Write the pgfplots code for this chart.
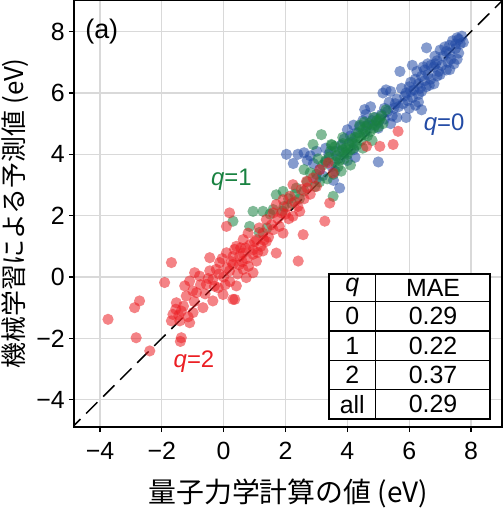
\documentclass[border=0pt]{standalone}
\usepackage{fontspec}
\setmainfont{Liberation Sans}
\newfontfamily\jp{Noto Sans CJK JP}
\usepackage{pgfplots}
\pgfplotsset{compat=1.18}
\usetikzlibrary{calc}
\definecolor{qblue}{RGB}{35,75,165}
\definecolor{qgreen}{RGB}{25,130,65}
\definecolor{qred}{RGB}{235,30,35}

\begin{document}
\begin{tikzpicture}
\begin{axis}[
    width=428bp, height=427bp, scale only axis,
    xmin=-4.84, xmax=9.0, ymin=-4.89, ymax=9.03,
    xtick={-4,-2,0,2,4,6,8}, ytick={-4,-2,0,2,4,6,8},
    xticklabels={−4,−2,0,2,4,6,8}, yticklabels={−4,−2,0,2,4,6,8},
    xtick pos=left, ytick pos=left, tick align=outside,
    major tick length=5bp,
    tick style={black, line width=1.3bp},
    axis line style={line width=1.8bp},
    grid=major,
    major grid style={black!15, line width=1.3bp},
    ticklabel style={font=\fontsize{25}{29}\selectfont, inner sep=0pt},
    xticklabel style={anchor=north, yshift=-10bp},
    yticklabel style={anchor=east, xshift=-4bp},
    xlabel={\jp 量子力学計算の値 (eV)},
    ylabel={\jp 機械学習による予測値 (eV)},
    label style={inner sep=0pt},
    xlabel style={font=\fontsize{28}{32}\selectfont, at={(rel axis cs:0.5,-0.155)}, anchor=center},
    ylabel style={font=\fontsize{26}{30}\selectfont, at={(rel axis cs:-0.137,0.5)}, anchor=center},
    scatter/.style={only marks, mark=*, mark size=5.6bp,
        mark options={fill=#1, draw=#1, draw opacity=0, fill opacity=0.55}},
]
\addplot[black, line width=1.5bp, dash pattern=on 16bp off 8bp] coordinates {(-5,-5) (9.1,9.1)};

% q = 0
\addplot[scatter=qblue] coordinates {
(7.70,7.85) (7.55,7.80) (7.65,7.60) (7.40,7.70) (7.30,7.55) (7.50,7.45) (7.60,7.30) (7.20,7.35) (7.10,7.20) (7.35,7.10)
(7.45,6.95) (7.00,7.40) (6.90,7.05) (7.05,6.90) (6.80,6.85) (6.95,6.70) (7.20,6.75) (7.60,7.75) (7.75,7.65) (7.15,7.50)
(6.56,7.47) (6.83,7.20) (7.31,6.76) (7.25,7.00) (6.60,6.60) (6.50,6.40) (6.40,6.55) (6.70,6.45) (6.30,6.30) (6.55,6.20)
(6.20,6.45) (6.15,6.10) (6.40,6.05) (6.00,6.20) (5.90,6.00) (6.10,5.85) (6.30,5.95) (6.50,6.75) (6.65,6.25) (6.80,6.30)
(6.90,6.55) (6.25,6.70) (5.70,6.70) (6.10,6.90) (5.25,6.10) (5.15,6.00) (5.40,6.05) (5.60,5.80) (6.40,5.45) (5.90,5.20)
(5.65,5.55) (5.80,5.65) (6.00,5.50) (6.30,5.70) (6.70,6.90) (6.45,6.85) (6.05,6.35) (5.75,6.15) (5.95,5.75) (6.20,5.60)
(5.50,5.50) (5.30,5.40) (5.10,5.30) (5.20,5.15) (4.90,5.20) (4.60,5.30) (4.50,5.10) (4.80,4.95) (5.00,4.85) (4.40,4.90)
(4.20,4.95) (4.30,4.70) (4.10,4.60) (4.60,4.75) (5.40,5.00) (5.60,5.20) (4.00,4.80) (3.90,4.50) (3.80,4.30) (4.15,4.40)
(4.56,5.46) (4.75,5.55) (5.35,5.70) (3.60,4.10) (3.40,4.00) (3.70,3.85) (3.50,3.60) (3.30,3.75) (3.10,3.50) (2.90,3.70)
(2.60,4.05) (2.40,4.00) (2.03,4.00) (2.25,3.70) (2.80,3.95) (3.00,3.20) (3.20,3.30) (3.55,3.15) (3.75,2.90) (4.00,3.80)
(4.25,3.90) (5.00,3.75) (4.20,4.15) (3.90,4.05) (2.70,3.80) (3.60,3.45) (3.30,4.20) (3.00,4.10)
(6.85,6.95) (7.00,6.60) (6.60,6.95) (6.35,6.15) (6.05,6.05) (5.85,5.90) (5.55,5.65) (5.45,5.25) (5.20,5.50) (5.00,5.05)
(4.80,5.10) (4.65,4.95) (7.50,7.60) (7.30,7.30) (7.55,7.10)
};

% q = 1
\addplot[scatter=qgreen] coordinates {
(5.25,5.45) (5.10,5.25) (4.95,5.10) (4.85,5.20) (4.70,5.00) (4.60,4.90) (4.50,4.80) (4.40,4.95) (4.35,4.70) (4.25,4.55)
(4.15,4.50) (4.05,4.35) (3.95,4.20) (3.85,4.35) (3.75,4.10) (3.65,3.95) (3.60,4.25) (3.50,4.30) (3.45,4.10) (3.40,3.90)
(3.30,3.80) (3.20,3.65) (3.16,4.64) (2.89,4.32) (3.48,4.32) (4.00,4.00) (4.20,4.20) (4.45,4.45) (4.75,4.75) (5.00,4.90)
(4.65,4.60) (4.30,4.30) (3.90,3.85) (3.70,3.60) (3.55,3.35) (3.35,3.20) (3.10,3.10) (2.95,2.95) (3.00,3.35) (2.70,3.10)
(2.60,2.80) (2.45,2.55) (2.30,2.70) (2.20,2.40) (2.10,2.55) (1.95,2.30) (1.92,2.79) (1.70,2.68) (1.60,2.20) (1.50,2.05)
(1.27,2.14) (0.95,2.14) (0.84,1.65) (0.30,1.82) (1.15,1.45) (1.40,1.60) (3.54,2.63) (2.60,3.50) (2.80,3.40) (4.10,3.65)
(3.80,3.45) (2.35,2.90) (1.90,2.15) (4.50,4.20) (4.80,4.45) (4.55,5.05) (5.15,5.00) (3.05,3.85) (4.90,4.95) (3.85,4.55)
(4.55,4.65) (4.40,4.60) (4.20,4.35) (3.95,4.05) (3.75,3.80) (3.60,3.75) (4.85,4.85) (5.05,5.15) (4.10,4.15) (3.85,4.15)
};

% q = 2
\addplot[scatter=qred] coordinates {
(5.64,4.75) (5.48,4.32) (5.05,4.26) (4.62,4.26) (3.38,3.72) (3.11,3.50) (3.54,3.39) (2.89,3.23) (2.68,3.12) (2.24,3.01)
(2.51,2.85) (2.14,2.63) (1.92,2.52) (1.70,2.36) (2.46,2.14) (2.24,1.98) (1.87,2.09) (1.60,2.09) (1.38,1.87) (1.60,1.54)
(1.27,1.43) (1.06,1.22) (1.38,1.16) (0.79,1.43) (0.63,1.22) (0.41,1.00) (0.95,0.89) (0.63,0.78) (0.30,0.67) (1.92,1.43)
(1.70,0.78) (3.43,2.41) (3.27,1.82) (2.57,1.38) (0.19,2.09) (0.09,1.65) (2.05,2.30) (3.00,2.95) (2.80,2.70) (1.45,1.30)
(1.20,1.00) (1.00,1.15) (0.85,1.05) (1.55,1.70) (1.75,1.90) (2.00,2.05) (2.30,2.45) (2.70,2.90) (1.15,1.60) (0.55,0.95)
(0.09,0.79) (0.52,0.68) (0.95,0.74) (1.27,0.85) (0.30,0.41) (-0.24,0.25) (-0.13,0.47) (0.19,0.20) (0.63,0.25) (1.06,0.52)
(-0.35,-0.08) (-0.56,-0.24) (-0.78,0.03) (-1.10,-0.13) (-1.26,-0.29) (-0.88,-0.51) (-1.21,-0.62) (-1.53,-0.84) (-1.37,-1.11) (-1.64,-1.22)
(-1.69,-1.43) (-1.42,-1.43) (-1.10,-1.49) (-0.99,-1.16) (-0.67,-1.00) (-0.35,-0.78) (0.30,-0.73) (-0.02,-0.57) (-0.18,-0.35) (0.41,-0.29)
(0.73,-0.02) (0.95,0.14) (0.00,0.00) (0.10,0.30) (-0.05,0.60) (0.45,0.10) (-0.45,0.20) (-0.60,-0.55) (-0.95,-0.80) (-1.30,-0.95)
(-1.15,-1.30) (0.20,-0.15) (0.60,0.50) (0.80,0.35) (-0.30,-0.30) (-0.75,-0.25) (0.05,-0.25) (0.35,0.90)
(-3.74,-1.38) (-2.88,-1.00) (-2.72,-0.78) (-2.83,-1.98) (-2.39,-2.41) (-1.37,-1.98) (-1.40,-2.10) (-1.69,0.47) (-1.91,-0.18) (-0.94,0.14)
(-0.45,0.63) (2.41,0.52) (0.36,-0.73)
(0.25,0.50) (0.50,0.40) (0.75,0.60) (1.10,0.80) (1.30,1.20) (0.70,0.95) (-0.15,0.10) (-0.50,-0.05) (-1.00,-0.45) (-1.45,-1.25)
(-1.55,-1.05) (1.80,1.65) (2.10,1.90) (2.40,2.30) (2.60,2.55)
};

% labels
\node[anchor=west, inner sep=0pt, font=\fontsize{27}{31}\selectfont] at (axis cs:-4.48,8.0) {(a)};
\node[inner sep=0pt, text=qblue, font=\fontsize{24}{28}\selectfont] at (axis cs:7.13,4.96) {\textit{q}=0};
\node[inner sep=0pt, text=qgreen, font=\fontsize{24}{28}\selectfont] at (axis cs:0.25,3.16) {\textit{q}=1};
\node[inner sep=0pt, text=qred, font=\fontsize{24}{28}\selectfont] at (axis cs:-0.96,-2.76) {\textit{q}=2};

% MAE table
\filldraw[fill=white, draw=black, line width=1.3bp] (axis cs:3.407,0.099) rectangle (axis cs:8.614,-4.627);
\draw[line width=1.3bp] (axis cs:4.917,0.099) -- (axis cs:4.917,-4.627);
\draw[line width=1.3bp] (axis cs:3.407,-0.804) -- (axis cs:8.614,-0.804);
\draw[line width=1.3bp] (axis cs:3.407,-1.759) -- (axis cs:8.614,-1.759);
\draw[line width=1.3bp] (axis cs:3.407,-2.720) -- (axis cs:8.614,-2.720);
\draw[line width=1.3bp] (axis cs:3.407,-3.665) -- (axis cs:8.614,-3.665);
\begin{scope}[every node/.style={inner sep=0pt, font=\fontsize{25}{29}\selectfont}]
\node at (axis cs:4.16,-0.35) {\textit{q}};
\node at (axis cs:6.77,-0.35) {MAE};
\node at (axis cs:4.16,-1.28) {0};
\node at (axis cs:6.77,-1.28) {0.29};
\node at (axis cs:4.16,-2.24) {1};
\node at (axis cs:6.77,-2.24) {0.22};
\node at (axis cs:4.16,-3.19) {2};
\node at (axis cs:6.77,-3.19) {0.37};
\node at (axis cs:4.16,-4.15) {all};
\node at (axis cs:6.77,-4.15) {0.29};
\end{scope}

\coordinate (bl) at (rel axis cs:0,0);
\coordinate (tr) at (rel axis cs:1,1);
\end{axis}
\pgfresetboundingbox
\path ($(bl)+(-74bp,-85bp)$) rectangle ($(tr)+(2bp,0bp)$);
\end{tikzpicture}
\end{document}
